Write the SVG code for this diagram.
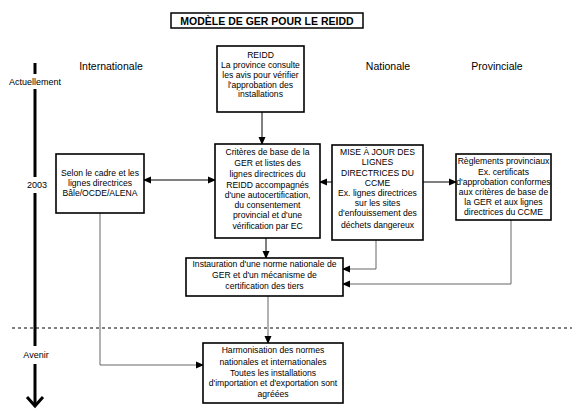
<svg xmlns="http://www.w3.org/2000/svg" width="576" height="410" viewBox="0 0 576 410">
<style>
text{font-family:"Liberation Sans",Arial,sans-serif;font-size:8.6px;fill:#000;text-anchor:middle}
.box{fill:#fff;stroke:#000;stroke-width:1.6}
.con{fill:none;stroke:#666;stroke-width:1}
.conb{fill:none;stroke:#000;stroke-width:1}
.ax{fill:none;stroke:#000;stroke-width:3}
.lbl{font-size:10.5px}
</style>
<defs>
<marker id="ah" markerWidth="8" markerHeight="8" refX="7" refY="4" orient="auto" markerUnits="userSpaceOnUse">
<path d="M0,0.5 L8,4 L0,7.5 Z" fill="#000"/>
</marker>
<marker id="ahs" markerWidth="8" markerHeight="8" refX="1" refY="4" orient="auto" markerUnits="userSpaceOnUse">
<path d="M8,0.5 L0,4 L8,7.5 Z" fill="#000"/>
</marker>
</defs>
<rect width="576" height="410" fill="#fff"/>
<g id="title">
<rect x="171" y="13" width="192" height="15" fill="#fff" stroke="#000" stroke-width="1.5"/>
<text x="267" y="24.5" style="font-weight:bold;font-size:10.5px">MODÈLE DE GER POUR LE REIDD</text>
</g>
<g id="timeline">
<line class="ax" x1="35" y1="63" x2="35" y2="74"/>
<line class="ax" x1="35" y1="89" x2="35" y2="177"/>
<line class="ax" x1="35" y1="193" x2="35" y2="346"/>
<line class="ax" x1="35" y1="364" x2="35" y2="406"/>
<polyline class="ax" points="27,397 35,406 43,397"/>
<text x="35" y="85" style="font-size:9px">Actuellement</text>
<text x="37" y="188" style="font-size:9px">2003</text>
<text x="36" y="358" style="font-size:9px">Avenir</text>
<line x1="12" y1="328" x2="572" y2="328" stroke="#000" stroke-width="1" stroke-dasharray="3,3"/>
</g>
<g id="headers">
<text class="lbl" x="111" y="70">Internationale</text>
<text class="lbl" x="388" y="70">Nationale</text>
<text class="lbl" x="497" y="70">Provinciale</text>
</g>
<g id="connectors">
<line class="conb" x1="262" y1="112" x2="262" y2="144" marker-end="url(#ah)"/>
<line class="conb" x1="144" y1="180" x2="215" y2="180" marker-start="url(#ahs)" marker-end="url(#ah)"/>
<line class="conb" x1="332" y1="182" x2="320" y2="182" marker-end="url(#ah)"/>
<line class="conb" x1="423" y1="182" x2="456" y2="182" marker-end="url(#ah)"/>
<line class="conb" x1="266" y1="238" x2="266" y2="258" marker-end="url(#ah)"/>
<polyline class="con" points="376,240 376,269 343,269" marker-end="url(#ah)"/>
<polyline class="con" points="511,220 511,284 343,284" marker-end="url(#ah)"/>
<line class="con" x1="268" y1="296" x2="268" y2="343" marker-end="url(#ah)"/>
<polyline class="con" points="100,213 100,365 203,365" marker-end="url(#ah)"/>
</g>
<g id="reidd">
<rect class="box" x="217" y="46" width="87" height="66"/>
<text x="260.5" y="58">REIDD</text>
<text x="260.5" y="68">La province consulte</text>
<text x="260.5" y="78">les avis pour vérifier</text>
<text x="260.5" y="87.5">l'approbation des</text>
<text x="260.5" y="97">installations</text>
</g>
<g id="criteres">
<rect class="box" x="215" y="144" width="105" height="94"/>
<text x="267.5" y="155">Critères de base de la</text>
<text x="267.5" y="166">GER et listes des</text>
<text x="267.5" y="177">lignes directrices du</text>
<text x="267.5" y="187.5">REIDD accompagnés</text>
<text x="267.5" y="198">d'une autocertification,</text>
<text x="267.5" y="208">du consentement</text>
<text x="267.5" y="218">provincial et d'une</text>
<text x="267.5" y="229">vérification par EC</text>
</g>
<g id="selon">
<rect class="box" x="56" y="154" width="88" height="59"/>
<text x="100" y="176">Selon le cadre et les</text>
<text x="100" y="186">lignes directrices</text>
<text x="100" y="196">Bâle/OCDE/ALENA</text>
</g>
<g id="miseajour">
<rect class="box" x="332" y="145" width="91" height="95"/>
<text x="377.5" y="155">MISE À JOUR DES</text>
<text x="377.5" y="165">LIGNES</text>
<text x="377.5" y="176">DIRECTRICES DU</text>
<text x="377.5" y="186">CCME</text>
<text x="377.5" y="196">Ex. lignes directrices</text>
<text x="377.5" y="206">sur les sites</text>
<text x="377.5" y="216">d'enfouissement des</text>
<text x="377.5" y="228">déchets dangereux</text>
</g>
<g id="reglements">
<rect class="box" x="456" y="154" width="95" height="66"/>
<text x="503.5" y="164">Règlements provinciaux</text>
<text x="503.5" y="175">Ex. certificats</text>
<text x="503.5" y="185">d'approbation conformes</text>
<text x="503.5" y="195">aux critères de base de</text>
<text x="503.5" y="205">la GER et aux lignes</text>
<text x="503.5" y="215">directrices du CCME</text>
</g>
<g id="instauration">
<rect class="box" x="186" y="258" width="157" height="38"/>
<text x="264.5" y="266.5">Instauration d'une norme nationale de</text>
<text x="264.5" y="277.5">GER et d'un mécanisme de</text>
<text x="264.5" y="289">certification des tiers</text>
</g>
<g id="harmonisation">
<rect class="box" x="203" y="343" width="140" height="60"/>
<text x="273" y="353">Harmonisation des normes</text>
<text x="273" y="365">nationales et internationales</text>
<text x="273" y="376">Toutes les installations</text>
<text x="273" y="386">d'importation et d'exportation sont</text>
<text x="273" y="397">agréées</text>
</g>
</svg>
